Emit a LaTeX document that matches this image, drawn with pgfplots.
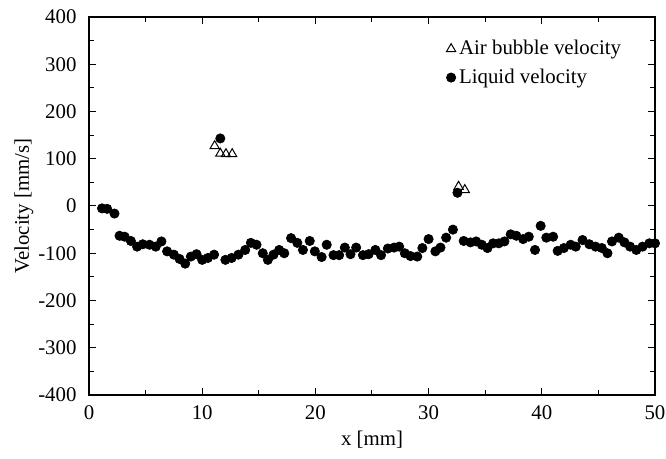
\documentclass[border=0pt]{standalone}
\usepackage{fontspec}
\setmainfont{Liberation Serif}
\usepackage{pgfplots}
\pgfplotsset{compat=1.18}

\begin{document}
\begin{tikzpicture}
\useasboundingbox (-53.4pt,-38.4pt) rectangle (346.2pt,237pt);
\begin{axis}[
  scale only axis,
  width=339.6pt, height=226.8pt,
  xmin=0, xmax=50, ymin=-400, ymax=400,
  xtick={0,10,...,50}, ytick={-400,-300,...,400},
  minor tick num=1,
  tick align=inside,
  major tick length=4pt, minor tick length=3pt,
  axis line style={black, line width=0.8pt},
  tick style={black, line width=0.6pt},
  xlabel={x [mm]},
  ylabel={Velocity [mm/s]},
  xlabel style={yshift=0pt},
  ylabel style={yshift=-4pt},
  xticklabel style={yshift=-3pt},
  yticklabel style={xshift=-4pt},
  font=\fontsize{12.5}{14}\selectfont,
  tick label style={font=\fontsize{12.5}{14}\selectfont},
  /pgf/number format/assume math mode=true,
  scaled ticks=false,
  legend style={draw=none, fill=none, at={(0.628,0.952)}, anchor=north west,
    font=\fontsize{12.5}{14}\selectfont, row sep=3pt,
    inner sep=1pt},
  legend cell align=left,
  clip=false,
]
\addplot[only marks, mark=triangle, mark size=3.2pt, mark options={black, line width=0.6pt, fill=white}]
coordinates {
  (11.1,127) (11.6,111) (12.1,110) (12.65,110)
  (32.65,41) (33.2,34)
};
\addlegendentry{Air bubble velocity}

\addplot[only marks, mark=*, mark size=2.8pt, black]
coordinates {
  (1.15,-5) (1.6,-6) (2.25,-16) (2.7,-63) (3.15,-65) (3.7,-74) (4.25,-86)
  (4.75,-81) (5.35,-82) (5.9,-86) (6.4,-75) (6.9,-96) (7.5,-103) (8.0,-112)
  (8.5,-122) (9.0,-107) (9.5,-102) (10.0,-114) (10.5,-110) (11.05,-103)
  (11.6,143)
  (12.05,-114) (12.6,-110) (13.2,-103) (13.8,-93) (14.3,-78) (14.8,-82)
  (15.35,-100) (15.8,-114) (16.3,-103) (16.8,-93) (17.25,-100) (17.85,-68)
  (18.4,-78) (18.9,-93) (19.5,-74) (19.95,-96) (20.55,-108) (21.0,-82)
  (21.6,-104) (22.1,-104) (22.6,-88) (23.1,-102) (23.6,-88) (24.2,-104)
  (24.7,-102) (25.3,-93) (25.8,-104) (26.4,-90) (26.95,-88) (27.4,-86)
  (27.9,-100) (28.4,-106) (29.0,-107) (29.45,-89) (30.0,-70) (30.6,-96)
  (31.05,-88) (31.55,-67) (32.15,-50) (32.55,28) (33.1,-74) (33.7,-77)
  (34.2,-75) (34.7,-82) (35.2,-89) (35.7,-79) (36.2,-79) (36.7,-75)
  (37.25,-60) (37.75,-63) (38.35,-70) (38.85,-65) (39.4,-93) (39.9,-42)
  (40.4,-67) (41.0,-65) (41.4,-95) (41.95,-89) (42.55,-82) (43.0,-86)
  (43.6,-72) (44.2,-81) (44.75,-86) (45.3,-89) (45.8,-100) (46.2,-75)
  (46.8,-67) (47.3,-77) (47.8,-86) (48.35,-93) (48.9,-86) (49.5,-79)
  (50.0,-79)
};
\addlegendentry{Liquid velocity}
\end{axis}
\end{tikzpicture}
\end{document}
